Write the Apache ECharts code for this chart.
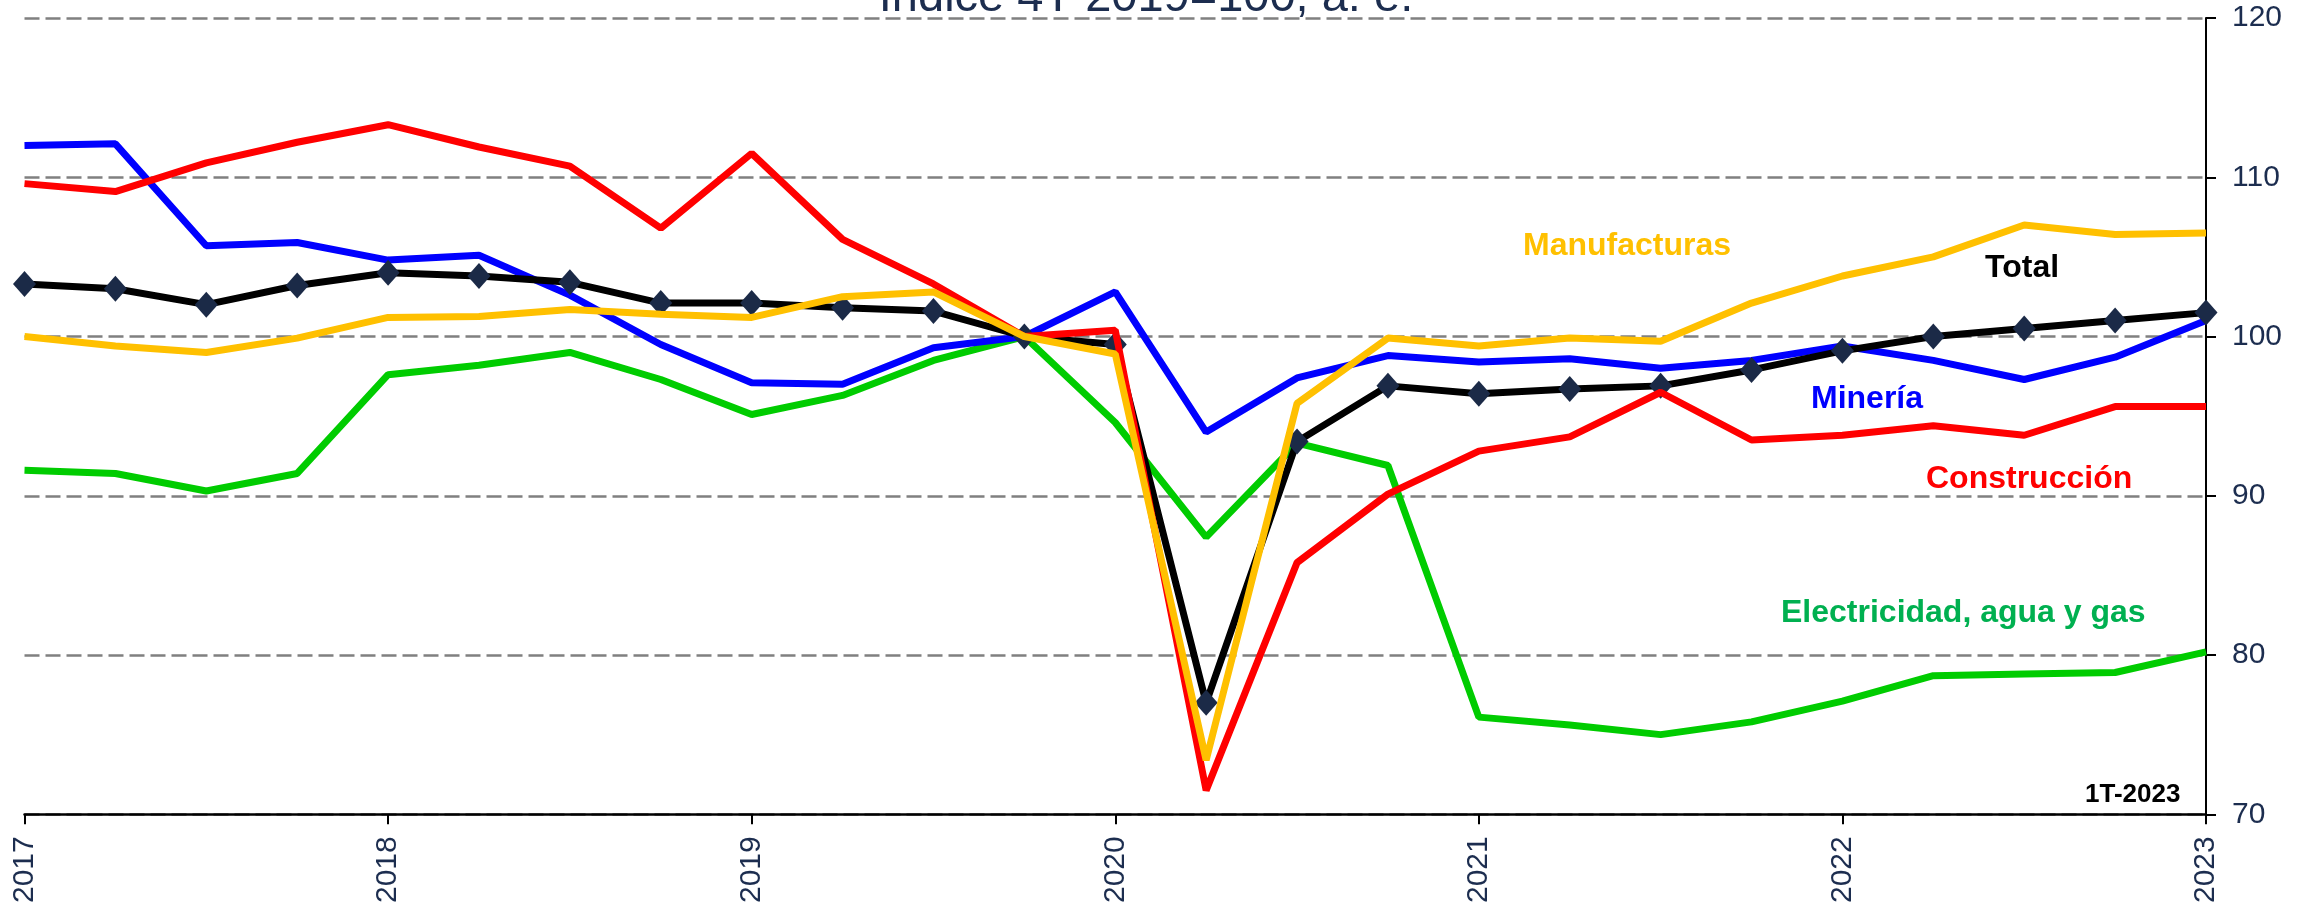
<!DOCTYPE html>
<html>
<head>
<meta charset="utf-8">
<script src="https://cdn.jsdelivr.net/npm/echarts@6/dist/echarts.min.js"></script>
<style>
  html, body { margin: 0; padding: 0; background: #fff; }
  #chart { width: 2315px; height: 906px; }
</style>
</head>
<body>
<div id="chart"></div>
<script>
// quarters 1T-2017 .. 1T-2023
const quarters = [
  '1T-2017', '2T-2017', '3T-2017', '4T-2017',
  '1T-2018', '2T-2018', '3T-2018', '4T-2018',
  '1T-2019', '2T-2019', '3T-2019', '4T-2019',
  '1T-2020', '2T-2020', '3T-2020', '4T-2020',
  '1T-2021', '2T-2021', '3T-2021', '4T-2021',
  '1T-2022', '2T-2022', '3T-2022', '4T-2022',
  '1T-2023'
]
const total = [103.3, 103.0, 102.0, 103.2, 104.0, 103.8, 103.4, 102.1, 102.1, 101.8, 101.6, 100.0, 99.5,
  77.0, 93.4, 96.9, 96.4, 96.7, 96.9, 97.9, 99.1, 100.0, 100.5, 101.0, 101.5]
const mineria = [112.0, 112.1, 105.7, 105.9, 104.8, 105.1, 102.6, 99.5, 97.1, 97.0, 99.3, 100.0, 102.8,
  94.0, 97.4, 98.8, 98.4, 98.6, 98.0, 98.5, 99.4, 98.5, 97.3, 98.7, 101.0]
const construccion = [109.6, 109.1, 110.9, 112.2, 113.3, 111.9, 110.7, 106.8, 111.5, 106.1, 103.3, 100.0, 100.4,
  71.5, 85.8, 90.1, 92.8, 93.7, 96.5, 93.5, 93.8, 94.4, 93.8, 95.6, 95.6]
const manufacturas = [100.0, 99.4, 99.0, 99.9, 101.2, 101.25, 101.7, 101.4, 101.2, 102.5, 102.8, 100.0, 98.9,
  73.4, 95.8, 99.9, 99.4, 99.9, 99.7, 102.1, 103.8, 105.0, 107.0, 106.4, 106.5]
const electricidad = [91.6, 91.4, 90.3, 91.4, 97.6, 98.2, 99.0, 97.3, 95.1, 96.3, 98.5, 100.0, 94.6,
  87.4, 93.3, 91.9, 76.1, 75.6, 75.0, 75.8, 77.1, 78.7, 78.8, 78.9, 80.2]

const navy = '#1c2d4f'
const font = "'Liberation Sans', Arial, sans-serif"

let chart = echarts.init(document.getElementById('chart'))

function line(name, data, color, z) {
  return {
    name: name,
    type: 'line',
    data: data,
    symbol: 'none',
    lineStyle: { color: color, width: 7 },
    itemStyle: { color: color },
    z: z
  }
}

function label(text, x, y, color, size) {
  return {
    type: 'text',
    x: x,
    y: y,
    style: {
      text: text,
      fill: color,
      font: 'bold ' + size + 'px ' + font,
      align: 'left',
      verticalAlign: 'middle'
    },
    z: 10
  }
}

let option = {
  backgroundColor: '#fff',
  animation: false,
  grid: { left: 24.5, right: 109, top: 18, bottom: 89 },
  xAxis: {
    type: 'category',
    data: quarters,
    boundaryGap: false,
    axisLine: { lineStyle: { color: '#000', width: 2.5 } },
    axisTick: { interval: 3, length: 10, lineStyle: { color: '#000', width: 2 } },
    axisLabel: {
      interval: 3,
      rotate: 90,
      margin: 22,
      color: navy,
      fontFamily: font,
      fontSize: 30,
      formatter: function (v) { return v.slice(3) }
    },
    splitLine: { show: false }
  },
  yAxis: {
    type: 'value',
    position: 'right',
    min: 70,
    max: 120,
    interval: 10,
    axisLine: { show: true, lineStyle: { color: '#000', width: 2 } },
    axisTick: { show: true, length: 10, lineStyle: { color: '#000', width: 2 } },
    axisLabel: {
      margin: 26,
      color: navy,
      fontFamily: font,
      fontSize: 30
    },
    splitLine: {
      show: true,
      lineStyle: { color: '#808080', width: 2.5, type: [15, 6] }
    }
  },
  series: [
    line('Electricidad, agua y gas', electricidad, '#00cc00', 2),
    line('Minería', mineria, '#0000ff', 2),
    {
      name: 'Total',
      type: 'line',
      data: total,
      symbol: 'diamond',
      symbolSize: [23, 26],
      showAllSymbol: true,
      lineStyle: { color: '#000', width: 7 },
      itemStyle: { color: '#1b2a47' },
      z: 3
    },
    line('Construcción', construccion, '#ff0000', 4),
    line('Manufacturas', manufacturas, '#ffc000', 5)
  ],
  graphic: [
    {
      type: 'text',
      x: 1146,
      y: -2,
      style: {
        text: 'Índice 4T-2019=100, a. e.',
        fill: navy,
        font: '47px ' + font,
        align: 'center',
        verticalAlign: 'middle'
      },
      z: 10
    },
    label('Manufacturas', 1523, 246, '#ffc000', 32),
    label('Total', 1985, 268, '#000000', 32),
    label('Minería', 1811, 399, '#0000ff', 32),
    label('Construcción', 1926, 479, '#ff0000', 32),
    label('Electricidad, agua y gas', 1781, 613, '#00b050', 32),
    label('1T-2023', 2085, 795, '#000000', 26)
  ]
}
chart.setOption(option)
</script>
</body>
</html>
